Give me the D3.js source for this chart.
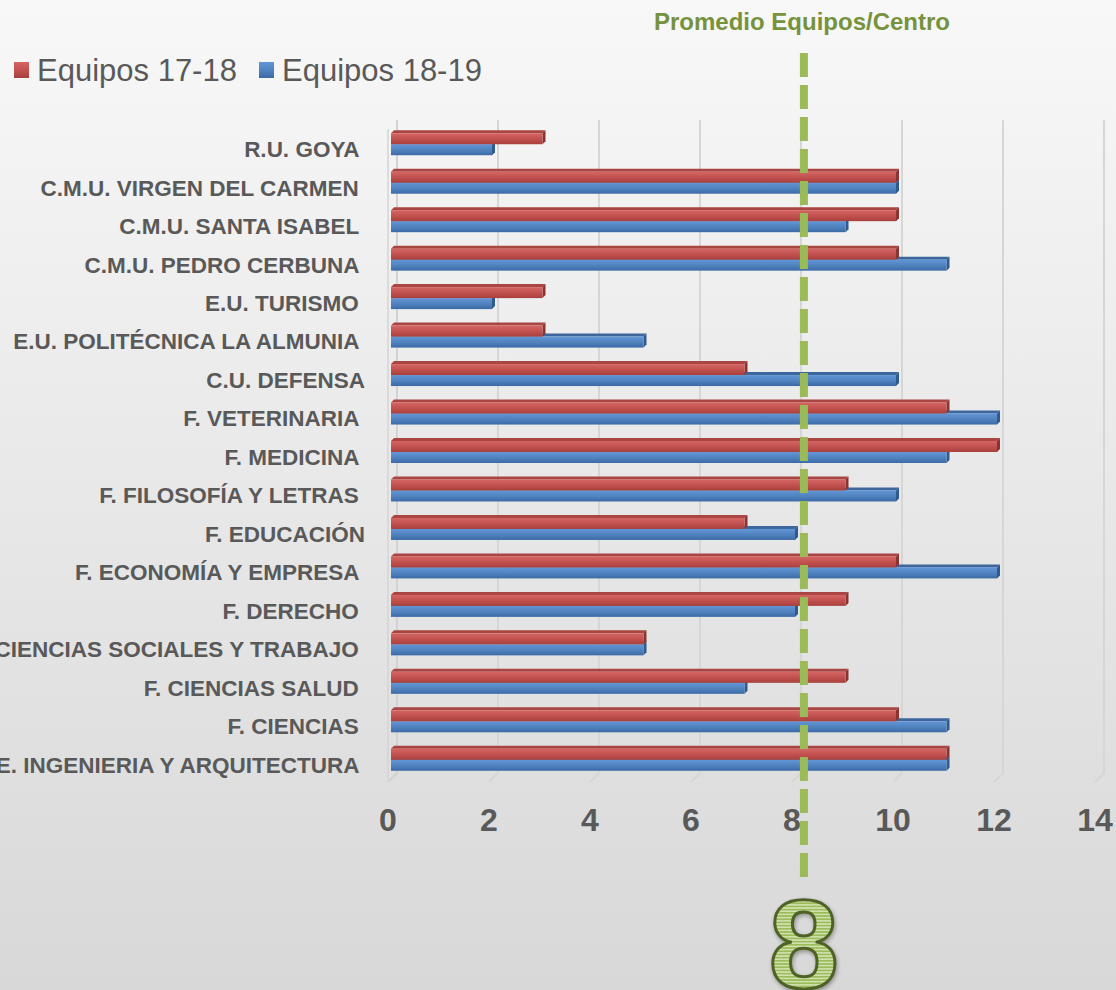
<!DOCTYPE html>
<html lang="es">
<head>
    <meta charset="UTF-8">
    <script src="https://cdn.jsdelivr.net/npm/d3@7"></script>
    <title>Equipos por centro</title>
    <style>
        html, body {
            margin: 0;
            padding: 0;
            overflow: hidden;
        }
        svg {
            display: block;
            font-family: "Liberation Sans", Arial, sans-serif;
        }
        .cat-label {
            white-space: pre;
        }
    </style>
</head>
<body>
    <div id="chart"></div>
    <script>
        const width = 1116;
        const height = 990;

        // categories, top to bottom (trailing spaces as in the original labels)
        const centros = [
            "R.U. GOYA ",
            "C.M.U. VIRGEN DEL CARMEN ",
            "C.M.U. SANTA ISABEL ",
            "C.M.U. PEDRO CERBUNA ",
            "E.U. TURISMO ",
            "E.U. POLITÉCNICA LA ALMUNIA ",
            "C.U. DEFENSA",
            "F. VETERINARIA ",
            "F. MEDICINA ",
            "F. FILOSOFÍA Y LETRAS ",
            "F. EDUCACIÓN",
            "F. ECONOMÍA Y EMPRESA ",
            "F. DERECHO ",
            "F. CIENCIAS SOCIALES Y TRABAJO ",
            "F. CIENCIAS SALUD ",
            "F. CIENCIAS ",
            "E. INGENIERIA Y ARQUITECTURA "
        ];
        const equipos1718 = [3, 10, 10, 10, 3, 3, 7, 11, 12, 9, 7, 10, 9, 5, 9, 10, 11];
        const equipos1819 = [2, 10, 9, 11, 2, 5, 10, 12, 11, 10, 8, 12, 8, 5, 7, 11, 11];
        const seriesNames = ["Equipos 17-18", "Equipos 18-19"];
        const xTicks = [0, 2, 4, 6, 8, 10, 12, 14];
        const promedioTitle = "Promedio Equipos/Centro";

        const promedio = d3.mean(equipos1718);

        const svg = d3.select("#chart").append("svg")
            .attr("width", width)
            .attr("height", height);

        const defs = svg.append("defs");

        // background gradient
        const bg = defs.append("linearGradient").attr("id", "bg")
            .attr("x1", 0).attr("y1", 0).attr("x2", 0).attr("y2", 1);
        bg.append("stop").attr("offset", "0%").attr("stop-color", "#f8f8f8");
        bg.append("stop").attr("offset", "100%").attr("stop-color", "#d8d8d8");

        svg.append("rect")
            .attr("width", width).attr("height", height)
            .attr("fill", "url(#bg)");

        // bar gradients
        const palette = [
            { id: "red", top: "#d66663", mid: "#c0504d", bottom: "#a8403d", side: "#8a3432", lid: "#a94542" },
            { id: "blue", top: "#6396d6", mid: "#4f81bd", bottom: "#3b6aa7", side: "#2f5a8e", lid: "#3d679c" }
        ];
        palette.forEach(p => {
            const g = defs.append("linearGradient").attr("id", "grad-" + p.id)
                .attr("x1", 0).attr("y1", 0).attr("x2", 0).attr("y2", 1);
            g.append("stop").attr("offset", "0%").attr("stop-color", p.top);
            g.append("stop").attr("offset", "55%").attr("stop-color", p.mid);
            g.append("stop").attr("offset", "100%").attr("stop-color", p.bottom);
        });

        // striped fill for the big number
        const stripes = defs.append("pattern").attr("id", "stripes")
            .attr("patternUnits", "userSpaceOnUse")
            .attr("width", 8).attr("height", 3.2);
        stripes.append("rect").attr("width", 8).attr("height", 3.2).attr("fill", "#d3e2b3");
        stripes.append("rect").attr("width", 8).attr("height", 1.7).attr("fill", "#9bbb59");

        const glow = defs.append("filter").attr("id", "glow")
            .attr("x", "-20%").attr("y", "-20%").attr("width", "140%").attr("height", "140%");
        glow.append("feGaussianBlur").attr("in", "SourceAlpha").attr("stdDeviation", 2).attr("result", "b");
        glow.append("feOffset").attr("in", "b").attr("dx", 1).attr("dy", 2).attr("result", "o");
        glow.append("feComponentTransfer").attr("in", "o").attr("result", "s")
            .append("feFuncA").attr("type", "linear").attr("slope", 0.35);
        const merge = glow.append("feMerge");
        merge.append("feMergeNode").attr("in", "s");
        merge.append("feMergeNode").attr("in", "SourceGraphic");

        // scales
        const x = d3.scaleLinear().domain([0, 14]).range([388, 1095]);
        const y = d3.scaleBand().domain(centros).range([124, 778]);
        const ySeries = d3.scaleBand().domain(seriesNames).range([-10, 12]);
        const depth = 3;      // bar 3D depth
        const back = 9;       // wall depth for gridlines
        const plotTop = 120;
        const floorY = 773;

        // gridlines with 3D floor edge
        svg.append("g")
            .selectAll("path")
            .data(xTicks)
            .join("path")
            .attr("d", v => `M${x(v) + back},${plotTop} L${x(v) + back},${floorY} L${x(v)},${floorY + 9}`)
            .attr("fill", "none")
            .attr("stroke", v => v === 0 ? "#d2d2d2" : "#d6d6d6")
            .attr("stroke-width", 2);

        // left wall line
        svg.append("line")
            .attr("x1", x(0)).attr("x2", x(0))
            .attr("y1", plotTop + 9).attr("y2", floorY + 9)
            .attr("stroke", "#d4d4d4").attr("stroke-width", 1.5);

        // bars: draw 18-19 first so the 17-18 bar sits on top of it
        const rows = centros.map((c, i) => ({ centro: c, values: [equipos1718[i], equipos1819[i]] }));
        const barH = ySeries.bandwidth();

        [1, 0].forEach(si => {
            const p = palette[si];
            const g = svg.append("g").attr("class", "series-" + p.id);
            const bars = g.selectAll("g")
                .data(rows)
                .join("g");

            const x0 = d => x(0) + depth;
            const x1 = d => x(d.values[si]) + depth;
            const yt = d => y(d.centro) + y.bandwidth() / 2 + ySeries(seriesNames[si]);

            // top face
            bars.append("path")
                .attr("d", d => `M${x0(d)},${yt(d)} L${x1(d)},${yt(d)} L${x1(d) + depth},${yt(d) - depth} L${x0(d) + depth},${yt(d) - depth} Z`)
                .attr("fill", p.lid);
            // end face
            bars.append("path")
                .attr("d", d => `M${x1(d)},${yt(d)} L${x1(d) + depth},${yt(d) - depth} L${x1(d) + depth},${yt(d) + barH - depth} L${x1(d)},${yt(d) + barH} Z`)
                .attr("fill", p.side);
            // front face
            bars.append("rect")
                .attr("x", x0)
                .attr("y", yt)
                .attr("width", d => x1(d) - x0(d))
                .attr("height", barH)
                .attr("fill", `url(#grad-${p.id})`);
        });

        // category labels
        svg.append("g")
            .selectAll("text")
            .data(centros)
            .join("text")
            .attr("class", "cat-label")
            .attr("x", 365)
            .attr("y", d => y(d) + y.bandwidth() / 2 + 6)
            .attr("dy", "0.35em")
            .attr("text-anchor", "end")
            .attr("font-size", 22.5)
            .attr("font-weight", "bold")
            .attr("fill", "#595959")
            .text(d => d);

        // x axis labels
        svg.append("g")
            .selectAll("text")
            .data(xTicks)
            .join("text")
            .attr("x", d => x(d))
            .attr("y", 831)
            .attr("text-anchor", "middle")
            .attr("font-size", 32)
            .attr("font-weight", "bold")
            .attr("fill", "#595959")
            .text(d => d);

        // average line
        svg.append("line")
            .attr("x1", x(promedio) + depth).attr("x2", x(promedio) + depth)
            .attr("y1", 53).attr("y2", 877)
            .attr("stroke", "#9bbb59")
            .attr("stroke-width", 8)
            .attr("stroke-dasharray", "24 8");

        svg.append("text")
            .attr("x", 654)
            .attr("y", 30)
            .attr("font-size", 24)
            .attr("font-weight", "bold")
            .attr("fill", "#76923c")
            .text(promedioTitle);

        svg.append("text")
            .attr("x", x(promedio) + depth)
            .attr("y", 988)
            .attr("text-anchor", "middle")
            .attr("font-size", 126)
            .attr("font-weight", "bold")
            .attr("fill", "url(#stripes)")
            .attr("stroke", "#4f6228")
            .attr("stroke-width", 3)
            .attr("filter", "url(#glow)")
            .text(Math.round(promedio));

        // legend
        const legend = svg.append("g");
        const legendX = [14, 259];
        seriesNames.forEach((name, i) => {
            legend.append("rect")
                .attr("x", legendX[i]).attr("y", 62)
                .attr("width", 15).attr("height", 16)
                .attr("fill", `url(#grad-${palette[i].id})`);
            legend.append("text")
                .attr("x", legendX[i] + 23)
                .attr("y", 81)
                .attr("font-size", 31)
                .attr("fill", "#595959")
                .text(name);
        });
    </script>
</body>
</html>
